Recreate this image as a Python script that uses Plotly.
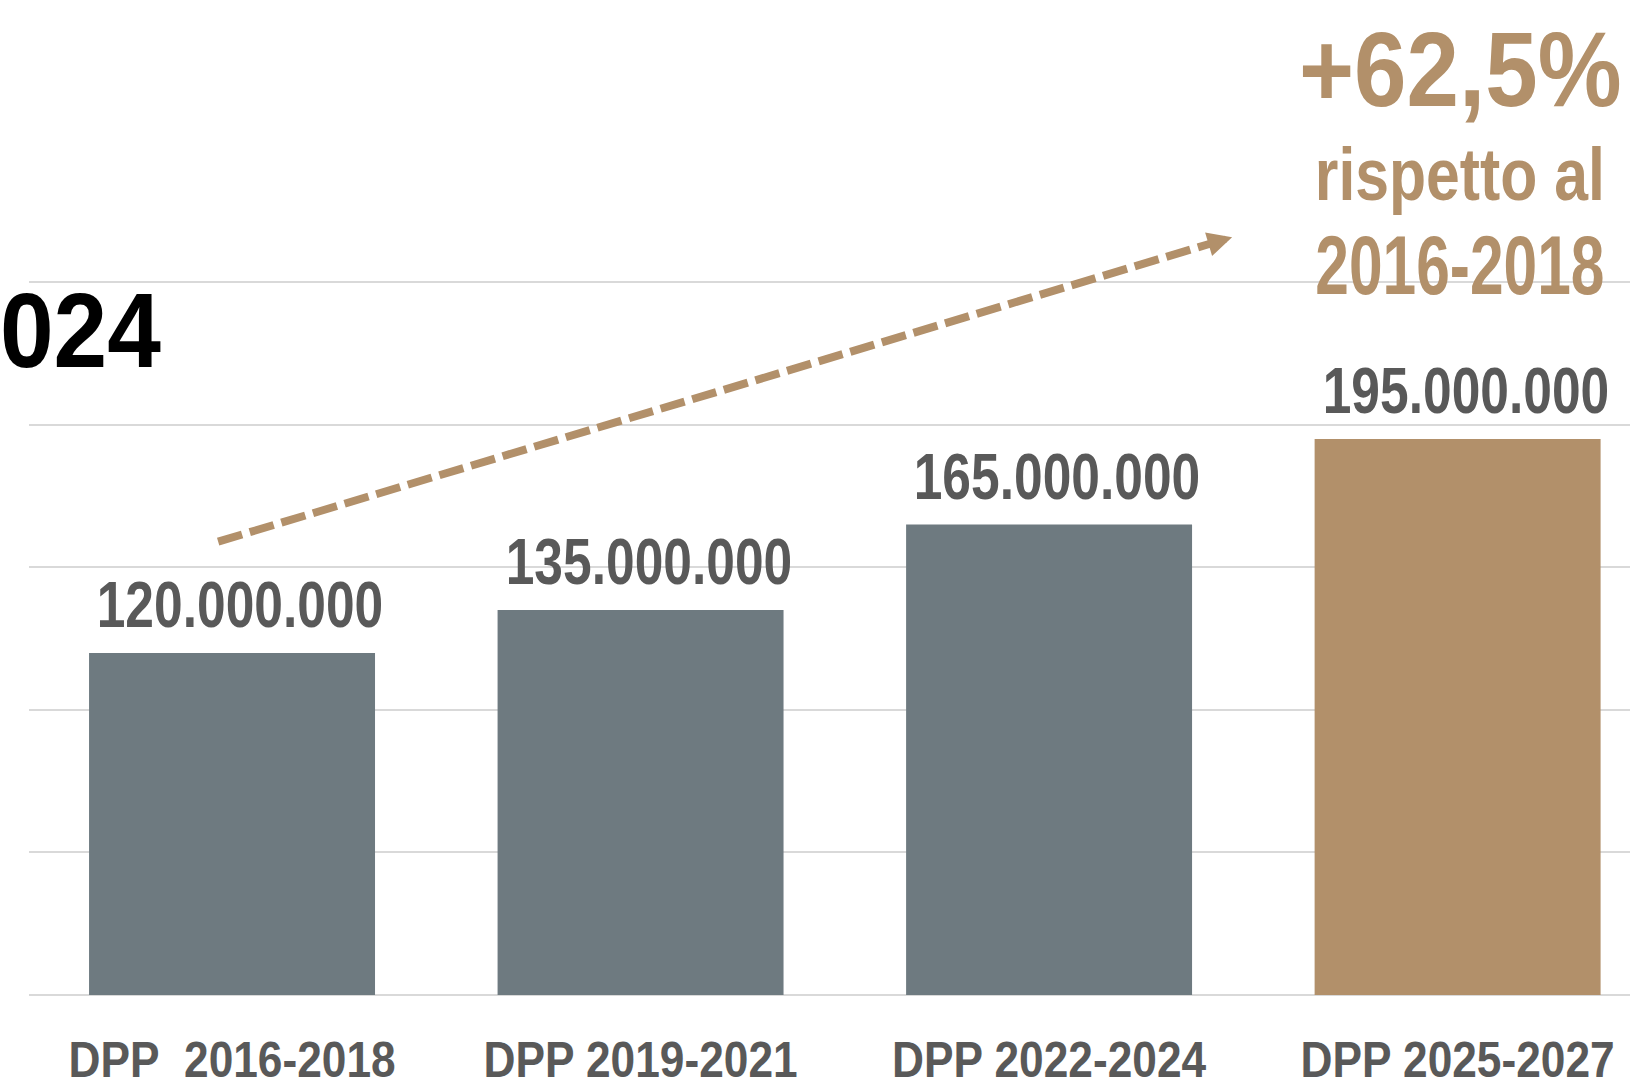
import json
import plotly.graph_objects as go

categories = ["DPP\u00a0 2016-2018", "DPP 2019-2021", "DPP 2022-2024", "DPP 2025-2027"]
values = [120000000, 135000000, 165000000, 195000000]
value_labels = ["120.000.000", "135.000.000", "165.000.000", "195.000.000"]
bar_colors = ["#6E7A80", "#6E7A80", "#6E7A80", "#B2906A"]
grid_vals = [0, 50000000, 100000000, 150000000, 200000000, 250000000]

GOLD = "#B2906A"
LABEL = "#595959"
FONT = "Liberation Sans, Arial, Helvetica, sans-serif"

W, H = 1630, 1082
ML, MB = 29, 87
PLOT_H = H - MB

def px_x(px):
    return (px - ML) / (W - ML)

def px_y(py):
    return (PLOT_H - py) / PLOT_H

xpos = list(range(len(categories)))

# horizontal condensing factors (to emulate the narrow typeface)
squeeze = {}

fig = go.Figure()
fig.add_trace(go.Bar(
    x=xpos, y=values, marker_color=bar_colors, marker_line_width=0,
    width=0.7, hoverinfo="skip",
))

for i, (v, t) in enumerate(zip(values, value_labels)):
    fig.add_annotation(x=i, y=v, text=f"<b>{t}</b>", showarrow=False,
                       yanchor="bottom", xanchor="center", xshift=8, yshift=10,
                       font=dict(family=FONT, size=64, color=LABEL))
    squeeze[t] = 0.805
for c in categories:
    squeeze[c] = 0.885

# dashed trend arrow
fig.add_shape(type="line", xref="x", yref="y",
              x0=-0.034, y0=159e6, x1=2.394, y1=263.5e6,
              line=dict(color=GOLD, width=8, dash="25px,8px"))
fig.add_annotation(x=2.448, y=265.8e6, ax=-27, ay=8, axref="pixel", ayref="pixel",
                   showarrow=True, arrowhead=2, arrowsize=0.7, arrowwidth=7,
                   arrowcolor=GOLD, text="")

# right-side annotation
side = [("+62,5%", 69, 106, 0.89), ("rispetto al", 175, 74, 0.82), ("2016-2018", 265, 84, 0.72)]
for txt, cy, size, f in side:
    fig.add_annotation(xref="paper", yref="paper", x=px_x(1460), y=px_y(cy), text=f"<b>{txt}</b>",
                       showarrow=False, xanchor="center", yanchor="middle",
                       font=dict(family=FONT, size=size, color=GOLD))
    squeeze[txt] = f

# cropped title fragment
fig.add_annotation(xref="paper", yref="paper", x=px_x(163), y=px_y(330), text="<b>024</b>",
                   showarrow=False, xanchor="right", yanchor="middle", align="right",
                   font=dict(family=FONT, size=106, color="#000000"))
squeeze["024"] = 0.91

fig.update_layout(
    width=W, height=H,
    margin=dict(l=ML, r=0, t=0, b=MB, pad=0),
    plot_bgcolor="white", paper_bgcolor="white",
    showlegend=False,
    xaxis=dict(range=[-0.497, 3.422], tickvals=xpos, ticktext=[f"<b>{c}</b>" for c in categories],
               tickangle=0, automargin=False, ticklabeloverflow="allow",
               showgrid=False, zeroline=False, showline=False,
               ticks="outside", ticklen=21, tickcolor="rgba(0,0,0,0)",
               tickfont=dict(family=FONT, size=50, color=LABEL)),
    yaxis=dict(range=[0, 349e6], tickvals=grid_vals, showticklabels=False, automargin=False,
               showgrid=True, gridcolor="#D9D9D9", gridwidth=2,
               zeroline=True, zerolinecolor="#D9D9D9", zerolinewidth=2),
)

js = """
document.body.style.margin = '0';
var SQ = __SQ__;
var gd = document.getElementById('{plot_id}');
gd.querySelectorAll('text').forEach(function(t){
  var s = t.textContent;
  if (SQ.hasOwnProperty(s)) {
    var L = t.getComputedTextLength();
    t.setAttribute('textLength', (L * SQ[s]).toFixed(1));
    t.setAttribute('lengthAdjust', 'spacingAndGlyphs');
  }
});
""".replace("__SQ__", json.dumps(squeeze))

fig.write_html("out.html", post_script=js, config={"displayModeBar": False})
